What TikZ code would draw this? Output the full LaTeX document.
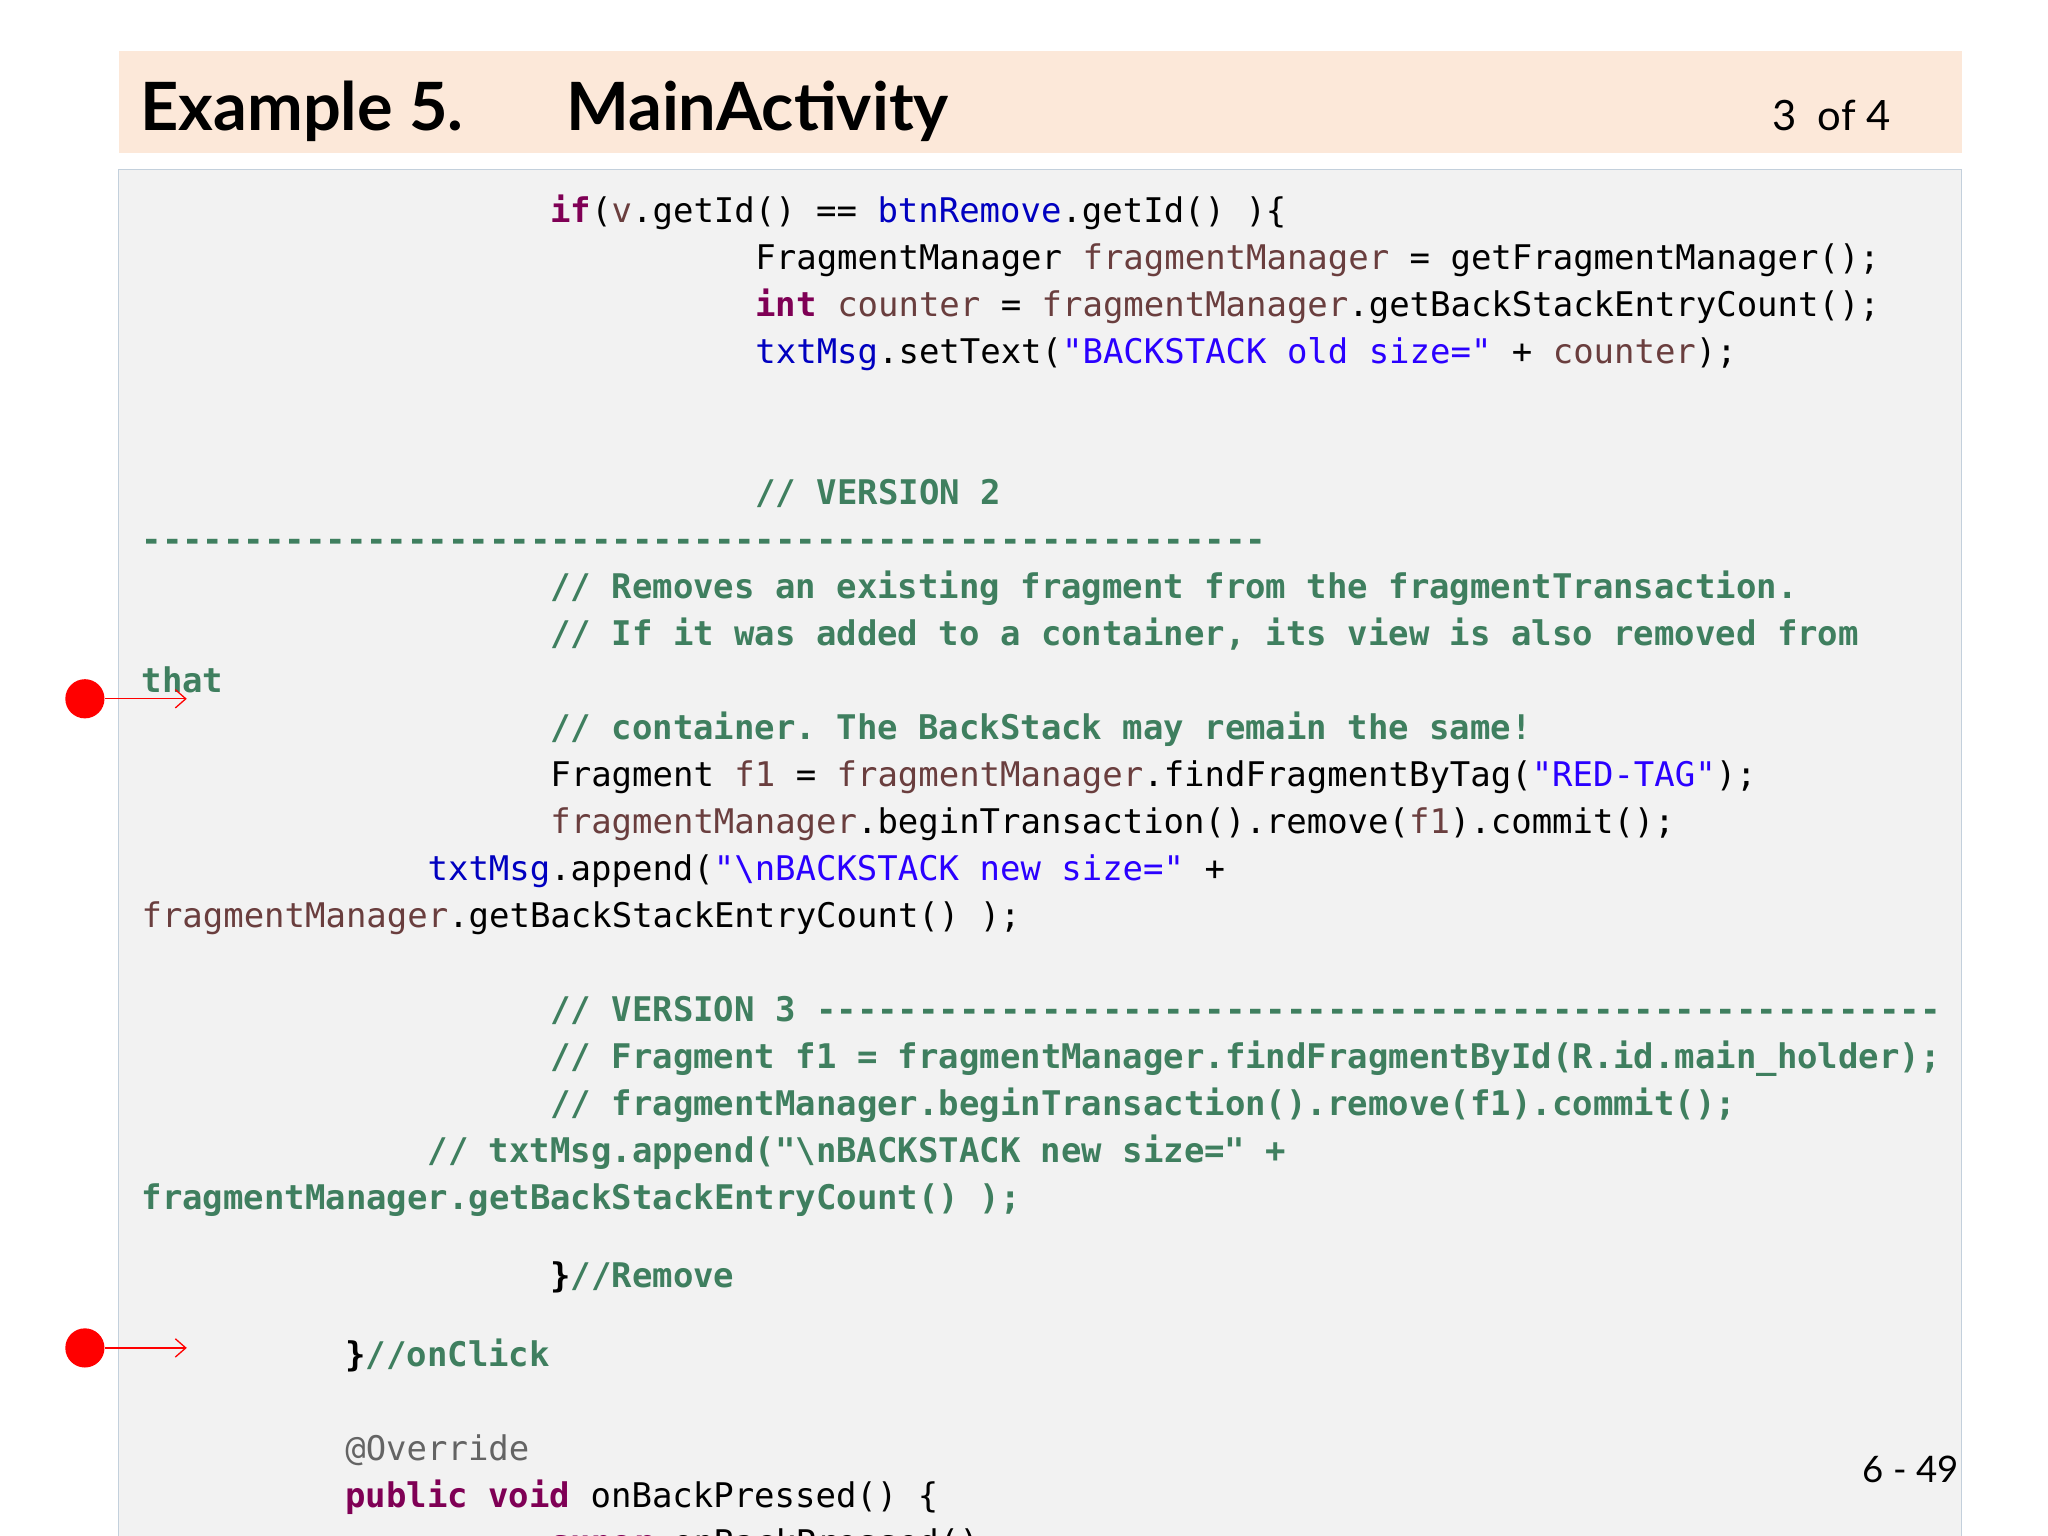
\documentclass[tikz,border=0pt]{standalone}
\usepackage{fontspec}
\usetikzlibrary{arrows.meta}
\setmainfont{Lato}
\setmonofont{DejaVu Sans Mono}
\definecolor{kw}{HTML}{7F0055}
\definecolor{fld}{HTML}{0000C0}
\definecolor{str}{HTML}{2A00FF}
\definecolor{loc}{HTML}{6A3E3E}
\definecolor{cmt}{HTML}{3F7F5F}
\definecolor{ann}{HTML}{646464}
\definecolor{hdr}{HTML}{FCE8D9}
\definecolor{codebg}{HTML}{F2F2F2}
\definecolor{codeln}{HTML}{C3D0DC}
\newcommand{\K}[1]{\textcolor{kw}{\bfseries #1}}
\newcommand{\F}[1]{\textcolor{fld}{#1}}
\newcommand{\Sq}[1]{\textcolor{str}{#1}}
\newcommand{\Lc}[1]{\textcolor{loc}{#1}}
\newcommand{\C}[1]{\textcolor{cmt}{\bfseries #1}}
\begin{document}
\begin{tikzpicture}[x=0.5pt,y=-0.5pt,
  code/.style={anchor=base west,inner sep=0pt,font=\ttfamily\fontsize{13pt}{15pt}\selectfont},
  dot/.style={circle,fill=red,minimum size=15pt,inner sep=0pt},
  arr/.style={-{Straight Barb[length=4pt,width=7pt]},red,line width=0.5pt}]
\useasboundingbox (0,0) rectangle (1568,1176);
\clip (0,0) rectangle (1568,1176);
\fill[white] (0,0) rectangle (1568,1176);
\fill[hdr] (91,39) rectangle (1502,117);
\filldraw[fill=codebg,draw=codeln] (91,130) rectangle (1502,1190);
\node[anchor=base west,inner sep=0pt,font=\bfseries\fontsize{25.5pt}{28pt}\selectfont] (t1) at (107,100) {Example 5.};
\node[anchor=base west,inner sep=0pt,font=\bfseries\fontsize{25.5pt}{28pt}\selectfont] (t2) at (433,100) {MainActivity};
\node[anchor=base east,inner sep=0pt,font=\fontsize{16pt}{18pt}\selectfont] (pg) at (1448,100) {3~ of 4};
\node[code] (l1) at (421,170) {\K{if}(\Lc{v}.getId() == \F{btnRemove}.getId() )\{};
\node[code] (l2) at (578,206) {FragmentManager \Lc{fragmentManager} = getFragmentManager();};
\node[code] (l3) at (578,242) {\K{int} \Lc{counter} = \Lc{fragmentManager}.getBackStackEntryCount();};
\node[code] (l4) at (578,278) {\F{txtMsg}.setText(\Sq{"BACKSTACK old size="} + \Lc{counter});};
\node[code] (l5) at (578,386) {\C{// VERSION 2}};
\node[code] (l6) at (108,422) {\C{-------------------------------------------------------}};
\node[code] (l7) at (421,458) {\C{// Removes an existing fragment from the fragmentTransaction.}};
\node[code] (l8) at (421,494) {\C{// If it was added to a container, its view is also removed from}};
\node[code] (l9) at (108,530) {\C{that}};
\node[code] (l10) at (421,566) {\C{// container. The BackStack may remain the same!}};
\node[code] (l11) at (421,602) {Fragment \Lc{f1} = \Lc{fragmentManager}.findFragmentByTag(\Sq{"RED-TAG"});};
\node[code] (l12) at (421,638) {\Lc{fragmentManager}.beginTransaction().remove(\Lc{f1}).commit();};
\node[code] (l13) at (327,674) {\F{txtMsg}.append(\Sq{"\textbackslash nBACKSTACK new size="} +};
\node[code] (l14) at (108,710) {\Lc{fragmentManager}.getBackStackEntryCount() );};
\node[code] (l15) at (421,782) {\C{// VERSION 3 -------------------------------------------------------}};
\node[code] (l16) at (421,818) {\C{// Fragment f1 = fragmentManager.findFragmentById(R.id.main\_holder);}};
\node[code] (l17) at (421,854) {\C{// fragmentManager.beginTransaction().remove(f1).commit();}};
\node[code] (l18) at (327,890) {\C{// txtMsg.append("\textbackslash nBACKSTACK new size=" +}};
\node[code] (l19) at (108,926) {\C{fragmentManager.getBackStackEntryCount() );}};
\node[code] (l20) at (421,986) {\textbf{\}}\C{//Remove}};
\node[code] (l21) at (264,1046) {\textbf{\}}\C{//onClick}};
\node[code] (l22) at (264,1118) {\textcolor{ann}{@Override}};
\node[code] (l23) at (264,1154) {\K{public} \K{void} onBackPressed() \{};
\node[code] (l24) at (421,1190) {\K{super}.onBackPressed();};
\node[anchor=base east,inner sep=0pt,font=\fontsize{14pt}{16pt}\selectfont] (num) at (1500,1135) {6 - 49};
\node[dot] (d1) at (65,535) {};
\node[dot] (d2) at (65,1032) {};
\coordinate (e1) at (143,535);
\coordinate (e2) at (143,1032);
\draw[arr] (d1) -- (e1);
\draw[arr] (d2) -- (e2);
\end{tikzpicture}
\end{document}
